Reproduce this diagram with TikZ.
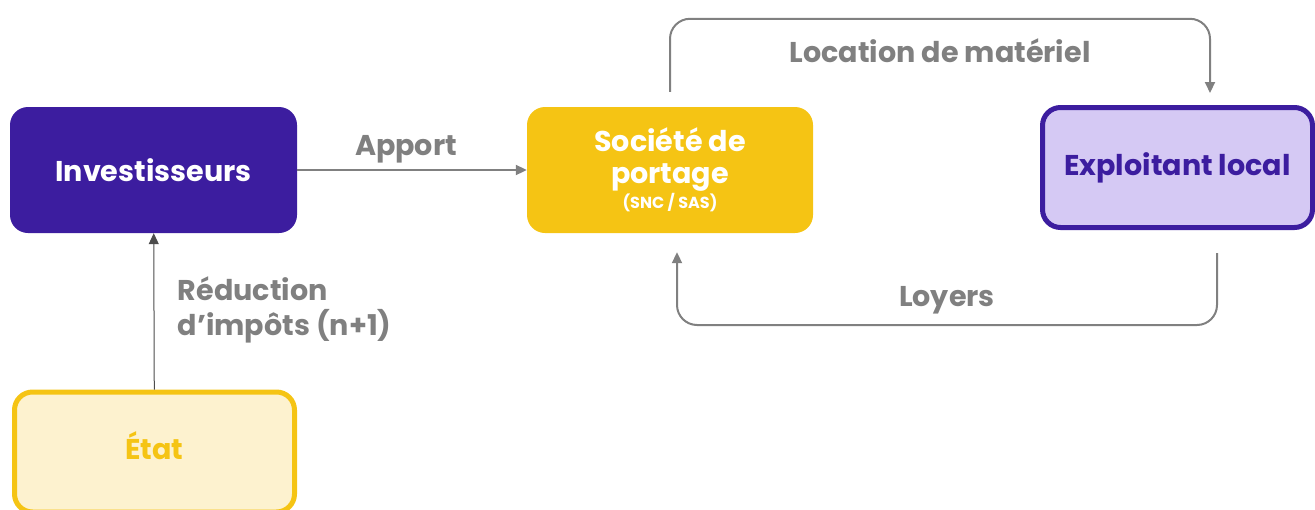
\documentclass[tikz,border=0pt]{standalone}
\usepackage{fontspec}
\setmainfont{Poppins}
\usetikzlibrary{arrows.meta,positioning}
\definecolor{deeppurple}{HTML}{3C1D9F}
\definecolor{sunyellow}{HTML}{F5C414}
\definecolor{lilac}{HTML}{D5C9F4}
\definecolor{cream}{HTML}{FDF2CF}
\definecolor{flowgray}{HTML}{808080}
\tikzset{>={Triangle[length=11pt,width=10pt]},
  actor/.style={rounded corners=18pt, align=center,
    font=\bfseries\fontsize{28.6}{35}\selectfont},
  flow/.style={draw=flowgray, line width=2pt, rounded corners=20pt},
  flowlabel/.style={text=flowgray, font=\bfseries\fontsize{28.6}{35}\selectfont}}
\begin{document}
\begin{tikzpicture}[x=1pt,y=-1pt]
  \clip (0,0) rectangle (1315,509);
  \node (inv) [actor, fill=deeppurple, text=white,
    minimum width=287pt, minimum height=126pt] at (153.5,170) {Investisseurs};
  \node (soc) [actor, fill=sunyellow, text=white,
    minimum width=286pt, minimum height=126pt] at (670,170)
    {Société de\\[-3pt]portage\\[-10pt]{\fontsize{16}{19}\selectfont (SNC / SAS)}};
  \node (expl) [actor, fill=lilac, draw=deeppurple, text=deeppurple, line width=5pt,
    minimum width=270pt, minimum height=120pt] at (1177.5,167.5) {Exploitant local};
  \node (etat) [actor, fill=cream, draw=sunyellow, text=sunyellow, line width=5pt,
    text depth=12pt, minimum width=280pt, minimum height=120pt] at (154.5,452) {État};

  % flux
  \draw [flow, ->] (inv) -- node [flowlabel, above=3pt, xshift=-6pt] {Apport} (soc);
  \draw [->, draw=black!70, line width=1pt] (etat) -- (inv)
    node (red) [flowlabel, align=left, anchor=west, pos=0.5, xshift=20pt, yshift=1pt]
    {Réduction\\d’impôts (n+1)};
  \draw [flow, ->] ([yshift=15pt]soc.north) -- ++(0,-73)
    -| ([xshift=32.5pt,yshift=12pt]expl.north)
    node (loc) [flowlabel, pos=0.25, below=16pt] {Location de matériel};
  \draw [flow, ->] ([xshift=39.5pt,yshift=-23pt]expl.south) -- ++(0,72)
    -| ([xshift=7pt,yshift=-19pt]soc.south)
    node (loy) [flowlabel, pos=0.25, above=7pt] {Loyers};
\end{tikzpicture}
\end{document}
